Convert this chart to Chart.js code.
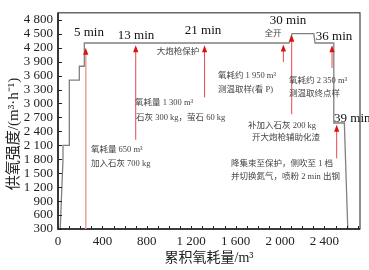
<!DOCTYPE html>
<html>
<head>
<meta charset="utf-8">
<script src="https://cdn.jsdelivr.net/npm/chart.js@4"></script>
<style>body{margin:0;background:#fff}</style>
</head>
<body>
<canvas id="o2Chart" width="369" height="270"></canvas>
<script>
// 供氧曲线拐点: 累积氧耗量 (m3) / 供氧强度 (m3/h)
const cumO2 = [20, 45, 45, 102, 102, 192, 192, 237, 237, 2081, 2108, 2304, 2315, 2484, 2484, 2579, 2610];
const o2Rate = [300, 1800, 2100, 2100, 3500, 3500, 3800, 3800, 4300, 4300, 4500, 4500, 4300, 4300, 2580, 2580, 300];

// 操作节点箭头 (x 位置, 箭头顶端, 线段底端)
const arrowAt = [250, 700, 1320, 2030, 2105, 2468, 2510];
const arrowTip = [4200, 4250, 4250, 4270, 4480, 4250, 2540];
const arrowEnd = [300, 2220, 3130, 3890, 2770, 3765, 1820];

// 时间标签与说明文字
const timeText = ['5 min', '13 min', '21 min', '30 min', '36 min', '39 min'];
const noteText = [
  '全开', '大炮枪保护',
  '氧耗约 1 950 m³', '测温取样(看 P)',
  '氧耗量 1 300 m³', '石灰 300 kg，萤石 60 kg',
  '氧耗量 650 m³', '加入石灰 700 kg',
  '氧耗约 2 350 m³', '测温取终点样',
  '补加入石灰 200 kg', '开大炮枪辅助化渣',
  '降集束至保护，侧吹至 1 档', '并切换氮气，喷粉 2 min 出钢'
];

// 文字锚点 (数据坐标)
const timePos = [[279, 4528, 'center'], [703, 4465, 'center'], [1306, 4570, 'center'],
  [2072, 4782, 'center'], [2486, 4443, 'center'], [2486, 2668, 'left']];
const notePos = [[1937, 4507, 'center'], [1081, 4105, 'center'],
  [1441, 3598, 'left'], [1441, 3302, 'left'],
  [694, 3006, 'left'], [703, 2689, 'left'],
  [297, 2012, 'left'], [297, 1695, 'left'],
  [2081, 3492, 'left'], [2081, 3217, 'left'],
  [1712, 2520, 'left'], [1748, 2266, 'left'],
  [1559, 1695, 'left'], [1559, 1420, 'left']];

function fmt(v) {
  if (v >= 1000) return Math.floor(v / 1000) + ' ' + String(v % 1000).padStart(3, '0');
  return String(v);
}

const serif = '"Liberation Serif", "Noto Sans CJK SC", serif';
const cjk = '"Liberation Serif", "Noto Sans CJK SC", sans-serif';

const points = cumO2.map((x, i) => ({x: x, y: o2Rate[i]}));

const decor = {
  id: 'decor',
  afterDraw(chart) {
    const ctx = chart.ctx;
    const xs = chart.scales.x, ys = chart.scales.y;
    const a = chart.chartArea;
    ctx.save();

    // 边框
    ctx.strokeStyle = '#444';
    ctx.lineWidth = 1.2;
    ctx.strokeRect(a.left, a.top, a.right - a.left, a.bottom - a.top);
    ctx.strokeStyle = '#222';
    ctx.lineWidth = 1.6;
    ctx.beginPath();
    ctx.moveTo(a.left, a.top);
    ctx.lineTo(a.left, a.bottom);
    ctx.lineTo(a.right, a.bottom);
    ctx.stroke();

    // 内向刻度
    ctx.lineWidth = 1;
    ctx.beginPath();
    xs.ticks.forEach(t => {
      if (t.value % 100 !== 0 || t.value <= 0) return;
      const px = Math.round(xs.getPixelForValue(t.value)) + 0.5;
      ctx.moveTo(px, a.bottom);
      ctx.lineTo(px, a.bottom - 3);
    });
    ys.ticks.forEach(t => {
      if (t.value % 300 !== 0) return;
      const py = Math.round(ys.getPixelForValue(t.value)) + 0.5;
      ctx.moveTo(a.left, py);
      ctx.lineTo(a.left + 4, py);
    });
    ctx.stroke();

    // 箭头
    arrowAt.forEach((x, i) => {
      const px = xs.getPixelForValue(x);
      const tip = ys.getPixelForValue(arrowTip[i]);
      const end = ys.getPixelForValue(arrowEnd[i]);
      ctx.strokeStyle = i === 0 ? '#eba3a3' : '#e24a4a';
      ctx.lineWidth = i === 0 ? 1.6 : 1;
      ctx.beginPath();
      ctx.moveTo(px, end);
      ctx.lineTo(px, tip + 5);
      ctx.stroke();
      ctx.fillStyle = '#e01010';
      ctx.beginPath();
      ctx.moveTo(px, tip);
      ctx.lineTo(px - 2.6, tip + 7);
      ctx.lineTo(px + 2.6, tip + 7);
      ctx.closePath();
      ctx.fill();
    });

    // 时间标签
    ctx.fillStyle = '#111';
    ctx.textBaseline = 'middle';
    ctx.font = '13px ' + serif;
    timeText.forEach((s, i) => {
      const p = timePos[i];
      ctx.textAlign = p[2];
      ctx.fillText(s, xs.getPixelForValue(p[0]), ys.getPixelForValue(p[1]));
    });

    // 说明文字
    ctx.fillStyle = '#444';
    ctx.font = '8.5px ' + cjk;
    noteText.forEach((s, i) => {
      const p = notePos[i];
      ctx.textAlign = p[2];
      ctx.fillText(s, xs.getPixelForValue(p[0]), ys.getPixelForValue(p[1]));
    });

    // 坐标轴标题
    ctx.fillStyle = '#222';
    ctx.textAlign = 'center';
    ctx.font = '14px ' + cjk;
    ctx.fillText('累积氧耗量/m³', (a.left + a.right) / 2, 258);
    ctx.translate(14, 134);
    ctx.rotate(-Math.PI / 2);
    ctx.font = '15px ' + cjk;
    ctx.fillText('供氧强度/(m³·h⁻¹)', 0, 0);
    ctx.restore();
  }
};

const ctx_o2 = document.getElementById('o2Chart').getContext('2d');
const o2Chart = new Chart(ctx_o2, {
  type: 'line',
  data: {
    datasets: [{
      data: points,
      borderColor: '#808080',
      borderWidth: 1.3,
      pointRadius: 0,
      tension: 0,
      fill: false
    }]
  },
  options: {
    responsive: false,
    animation: false,
    layout: {padding: {left: 0, right: 9, top: 9, bottom: 0}},
    plugins: {legend: {display: false}, tooltip: {enabled: false}},
    scales: {
      x: {
        type: 'linear',
        min: 0,
        max: 2720,
        grid: {drawOnChartArea: false, drawTicks: false},
        border: {display: false},
        afterFit: s => { s.height = 41; },
        ticks: {
          stepSize: 100,
          includeBounds: false,
          autoSkip: false,
          maxRotation: 0,
          padding: 5,
          color: '#222',
          font: {family: serif, size: 13},
          callback: v => (v % 400 === 0 ? fmt(v) : '')
        }
      },
      y: {
        min: 300,
        max: 4950,
        grid: {drawOnChartArea: false, drawTicks: false},
        border: {display: false},
        afterFit: s => { s.width = 58; },
        ticks: {
          stepSize: 300,
          includeBounds: false,
          autoSkip: false,
          padding: 5,
          color: '#222',
          font: {family: serif, size: 13},
          callback: v => (v % 300 === 0 ? fmt(v) : '')
        }
      }
    }
  },
  plugins: [decor]
});
</script>
</body>
</html>
